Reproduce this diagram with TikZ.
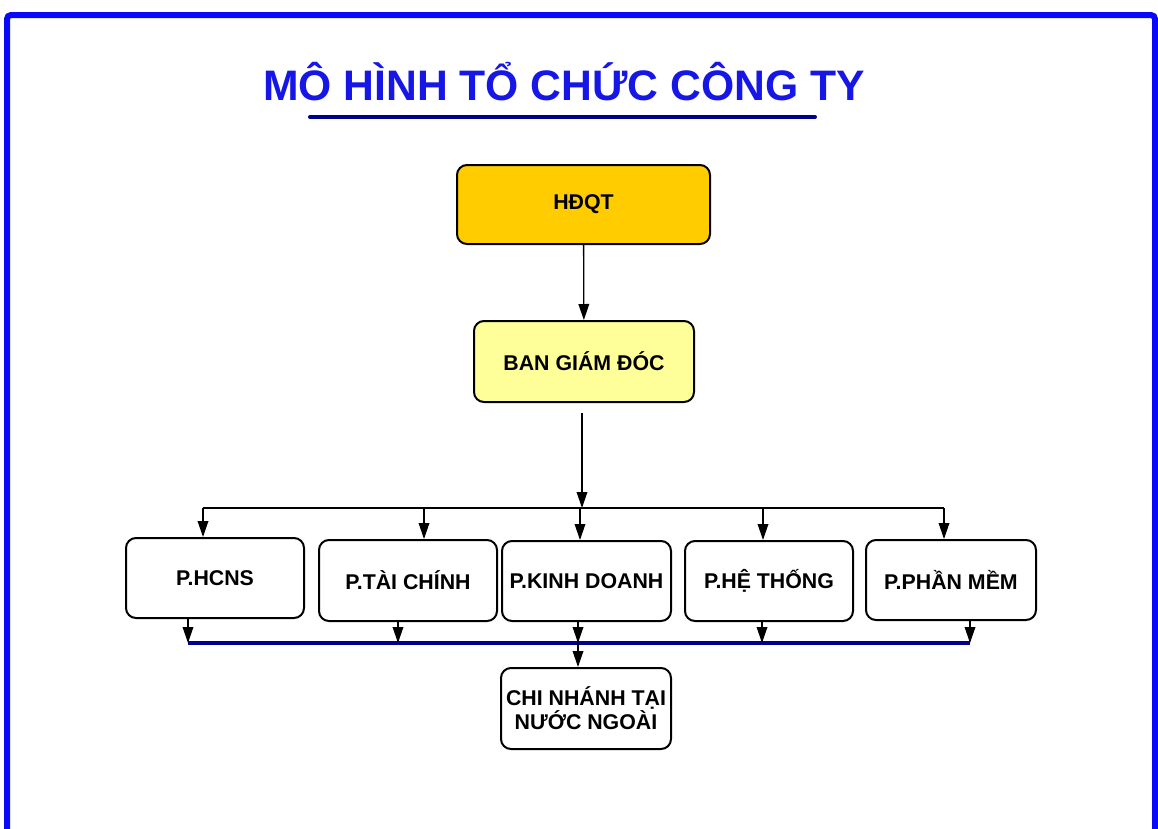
\documentclass[tikz,border=0pt]{standalone}
\usepackage{fontspec}
\setmainfont{Liberation Sans}
\usetikzlibrary{arrows.meta}

\definecolor{frameblue}{RGB}{8,8,250}
\definecolor{titleblue}{RGB}{22,22,230}
\definecolor{busnavy}{RGB}{0,0,140}
\definecolor{hdqtgold}{RGB}{255,204,0}
\definecolor{bgdyellow}{RGB}{255,255,153}

\tikzset{
  unitbox/.style={draw=black, line width=1.5pt, rounded corners=7.5pt, fill=white,
    align=center, inner sep=0pt, font=\fontsize{16}{18}\selectfont\bfseries},
  link/.style={line width=1pt, -{Triangle[length=12pt,width=8pt]}},
  busline/.style={draw=busnavy, line width=2.4pt},
}

\begin{document}
\begin{tikzpicture}[x=0.75pt,y=0.75pt,yscale=-1,xscale=1]
\useasboundingbox (0,0) rectangle (1158,829);

            % Frame
            \draw [frameblue, line width=4.5pt, rounded corners=3pt] (7,850) -- (7,15) -- (1155,15) -- (1155,850);

            % Title
            \node (title) at (564,100) [anchor=base, text=titleblue, font=\fontsize{32}{36}\selectfont\bfseries] {MÔ HÌNH TỔ CHỨC CÔNG TY};
            \draw [busnavy, line width=3pt, line cap=round] (310,117) -- (815,117);

            % Top boxes
            \node (hdqt) at (583.5,204.5) [unitbox, fill=hdqtgold, minimum width=189.75pt, minimum height=59.25pt] {HĐQT};
            \node (bgd) at (584,361.5) [unitbox, fill=bgdyellow, minimum width=165pt, minimum height=60.75pt] {BAN GIÁM ĐÓC};

            % Departments
            \node (hcns) at (215,578) [unitbox, minimum width=133.5pt, minimum height=60pt] {P.HCNS};
            \node (taichinh) at (408,580.5) [unitbox, minimum width=133.5pt, minimum height=60.75pt] {P.TÀI CHÍNH};
            \node (kinhdoanh) at (586.5,581) [unitbox, minimum width=126.75pt, minimum height=60pt] {P.KINH DOANH};
            \node (hethong) at (769,581) [unitbox, minimum width=126pt, minimum height=60pt] {P.HỆ THỐNG};
            \node (phanmem) at (951,580) [unitbox, minimum width=127.5pt, minimum height=60pt] {P.PHẦN MỀM};

            % Branch
            \node (chinhanh) at (586,708.5) [unitbox, minimum width=127.5pt, minimum height=60.75pt] {CHI NHÁNH TẠI\\NƯỚC NGOÀI};

            % Upper bus
            \coordinate (up0) at (582,508);
            \coordinate (up1) at (203,508);
            \coordinate (up2) at (424,508);
            \coordinate (up3) at (580,508);
            \coordinate (up4) at (763,508);
            \coordinate (up5) at (944,508);
            \draw [link] (hdqt) -- (bgd);
            \draw [link, shorten <=7.5pt] (bgd.south -| up0) -- (up0);
            \draw [line width=1pt] (up1) -- (up5);
            \draw [link] (up1) -- (up1 |- hcns.north);
            \draw [link] (up2) -- (up2 |- taichinh.north);
            \draw [link] (up3) -- (up3 |- kinhdoanh.north);
            \draw [link] (up4) -- (up4 |- hethong.north);
            \draw [link] (up5) -- (up5 |- phanmem.north);

            % Lower bus
            \coordinate (lo1) at (188,643);
            \coordinate (lo2) at (398,643);
            \coordinate (lo3) at (578,643);
            \coordinate (lo4) at (762,643);
            \coordinate (lo5) at (970,643);
            \draw [busline] (lo1) -- (lo5);
            \draw [link] (lo1 |- hcns.south) -- (lo1);
            \draw [link] (lo2 |- taichinh.south) -- (lo2);
            \draw [link] (lo3 |- kinhdoanh.south) -- (lo3);
            \draw [link] (lo4 |- hethong.south) -- (lo4);
            \draw [link] (lo5 |- phanmem.south) -- (lo5);
            \draw [link] (lo3) -- (lo3 |- chinhanh.north);

\end{tikzpicture}
\end{document}
